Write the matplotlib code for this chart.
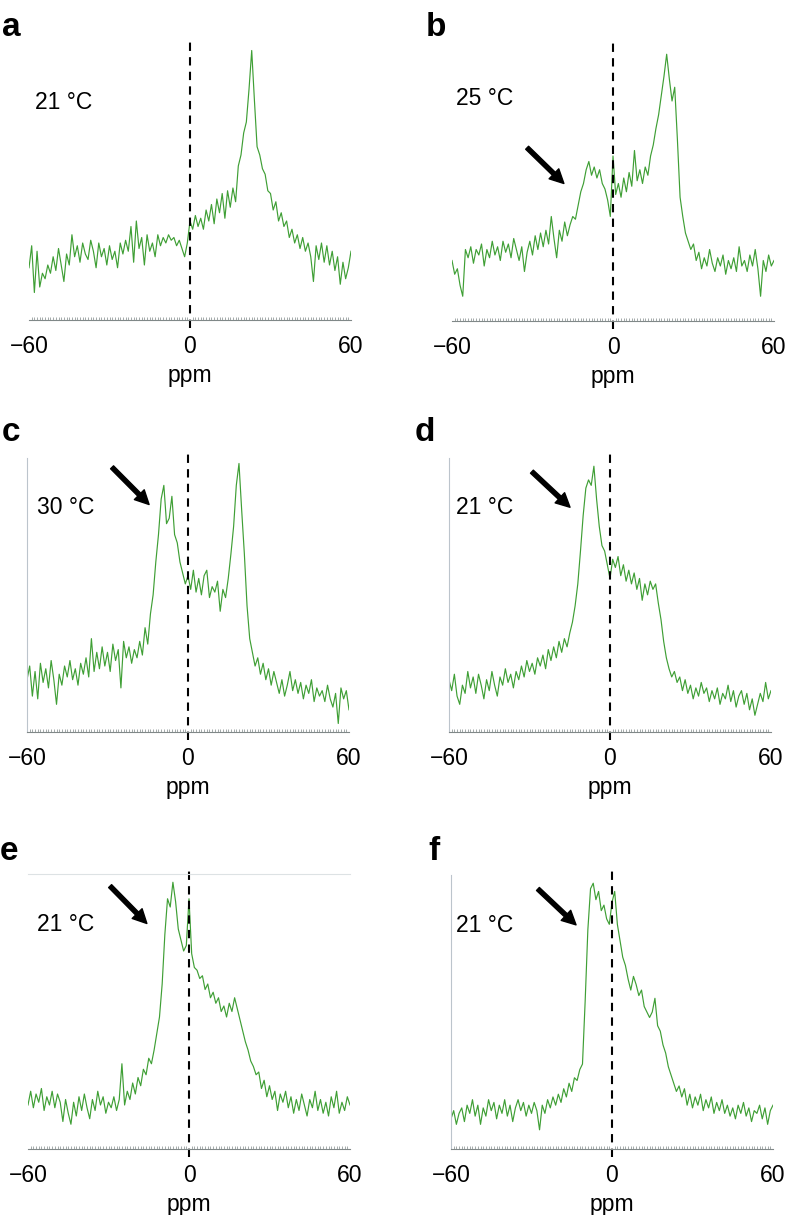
import matplotlib
matplotlib.use("Agg")
import matplotlib.pyplot as plt
from matplotlib.ticker import MultipleLocator
import numpy as np

plt.rcParams['font.family'] = ['Liberation Sans', 'DejaVu Sans']

# chemical shift axis (ppm), one point per ppm
ppm = np.arange(-60, 61, 1)

# intensities (0 = baseline, 1 = top of frame)
spec_a = [0.19, 0.27, 0.10, 0.25, 0.12, 0.17, 0.15, 0.20, 0.17, 0.23,
          0.18, 0.26, 0.20, 0.14, 0.24, 0.20, 0.31, 0.23, 0.27, 0.21,
          0.28, 0.24, 0.22, 0.29, 0.25, 0.19, 0.28, 0.23, 0.26, 0.20,
          0.27, 0.22, 0.25, 0.19, 0.28, 0.24, 0.29, 0.25, 0.34, 0.21,
          0.36, 0.26, 0.30, 0.20, 0.31, 0.25, 0.28, 0.23, 0.31, 0.27,
          0.30, 0.28, 0.31, 0.29, 0.30, 0.27, 0.29, 0.26, 0.23, 0.28,
          0.36, 0.33, 0.38, 0.34, 0.37, 0.33, 0.40, 0.36, 0.42, 0.35,
          0.44, 0.39, 0.46, 0.37, 0.47, 0.41, 0.48, 0.43, 0.56, 0.60,
          0.68, 0.72, 0.84, 0.98, 0.80, 0.63, 0.60, 0.55, 0.53, 0.47,
          0.46, 0.40, 0.43, 0.36, 0.39, 0.34, 0.36, 0.30, 0.33, 0.28,
          0.31, 0.26, 0.30, 0.25, 0.28, 0.23, 0.14, 0.27, 0.22, 0.28,
          0.21, 0.27, 0.20, 0.25, 0.18, 0.23, 0.13, 0.21, 0.15, 0.19,
          0.25]
spec_b = [0.22, 0.17, 0.19, 0.13, 0.09, 0.26, 0.23, 0.27, 0.21, 0.26,
          0.24, 0.28, 0.20, 0.26, 0.23, 0.29, 0.24, 0.27, 0.22, 0.29,
          0.25, 0.28, 0.23, 0.30, 0.26, 0.22, 0.27, 0.18, 0.25, 0.29,
          0.24, 0.31, 0.26, 0.32, 0.27, 0.33, 0.28, 0.38, 0.30, 0.23,
          0.33, 0.29, 0.36, 0.31, 0.35, 0.38, 0.37, 0.42, 0.47, 0.50,
          0.55, 0.58, 0.53, 0.56, 0.52, 0.55, 0.50, 0.48, 0.44, 0.38,
          0.60, 0.46, 0.50, 0.45, 0.52, 0.47, 0.54, 0.49, 0.62, 0.51,
          0.55, 0.50, 0.56, 0.53, 0.60, 0.64, 0.70, 0.75, 0.82, 0.89,
          0.97, 0.88, 0.80, 0.85, 0.66, 0.45, 0.38, 0.32, 0.29, 0.26,
          0.28, 0.22, 0.25, 0.19, 0.23, 0.20, 0.26, 0.21, 0.18, 0.23,
          0.20, 0.24, 0.17, 0.22, 0.19, 0.23, 0.18, 0.27, 0.20, 0.22,
          0.18, 0.24, 0.20, 0.26, 0.19, 0.09, 0.22, 0.18, 0.24, 0.20,
          0.22]
spec_c = [0.19, 0.24, 0.13, 0.22, 0.12, 0.25, 0.18, 0.23, 0.16, 0.26,
          0.19, 0.10, 0.21, 0.17, 0.24, 0.20, 0.26, 0.19, 0.23, 0.17,
          0.25, 0.21, 0.27, 0.20, 0.34, 0.22, 0.29, 0.23, 0.31, 0.24,
          0.29, 0.22, 0.32, 0.26, 0.30, 0.16, 0.33, 0.27, 0.31, 0.25,
          0.30, 0.27, 0.33, 0.28, 0.38, 0.32, 0.43, 0.50, 0.62, 0.72,
          0.85, 0.90, 0.76, 0.78, 0.86, 0.72, 0.69, 0.62, 0.58, 0.54,
          0.57, 0.52, 0.59, 0.51, 0.56, 0.50, 0.57, 0.59, 0.49, 0.53,
          0.51, 0.55, 0.44, 0.52, 0.49, 0.56, 0.65, 0.75, 0.90, 0.98,
          0.81, 0.65, 0.46, 0.34, 0.29, 0.24, 0.27, 0.21, 0.25, 0.19,
          0.23, 0.17, 0.22, 0.18, 0.14, 0.19, 0.13, 0.17, 0.22, 0.15,
          0.19, 0.14, 0.18, 0.12, 0.17, 0.14, 0.19, 0.11, 0.16, 0.13,
          0.15, 0.11, 0.17, 0.12, 0.09, 0.14, 0.03, 0.16, 0.12, 0.15,
          0.08]
spec_d = [0.19, 0.15, 0.21, 0.13, 0.10, 0.17, 0.14, 0.22, 0.16, 0.20,
          0.14, 0.21, 0.17, 0.12, 0.19, 0.15, 0.22, 0.17, 0.13, 0.20,
          0.17, 0.23, 0.18, 0.21, 0.16, 0.22, 0.19, 0.24, 0.20, 0.26,
          0.22, 0.25, 0.21, 0.27, 0.24, 0.28, 0.23, 0.30, 0.26, 0.31,
          0.27, 0.33, 0.29, 0.34, 0.31, 0.36, 0.40, 0.46, 0.54, 0.66,
          0.79, 0.89, 0.92, 0.90, 0.97, 0.85, 0.75, 0.68, 0.66, 0.61,
          0.56, 0.63, 0.60, 0.64, 0.57, 0.61, 0.55, 0.59, 0.54, 0.58,
          0.52, 0.56, 0.48, 0.54, 0.50, 0.55, 0.52, 0.54, 0.47, 0.41,
          0.33, 0.27, 0.23, 0.20, 0.22, 0.18, 0.20, 0.15, 0.19, 0.14,
          0.17, 0.12, 0.16, 0.13, 0.18, 0.14, 0.16, 0.11, 0.15, 0.12,
          0.16, 0.10, 0.14, 0.12, 0.17, 0.11, 0.15, 0.09, 0.13, 0.15,
          0.10, 0.14, 0.08, 0.12, 0.06, 0.10, 0.14, 0.11, 0.18, 0.12,
          0.15]
spec_e = [0.16, 0.21, 0.15, 0.20, 0.17, 0.22, 0.14, 0.19, 0.16, 0.21,
          0.15, 0.20, 0.17, 0.10, 0.18, 0.13, 0.09, 0.17, 0.12, 0.19,
          0.14, 0.20, 0.15, 0.11, 0.18, 0.14, 0.21, 0.16, 0.19, 0.13,
          0.17, 0.15, 0.19, 0.14, 0.18, 0.31, 0.16, 0.21, 0.18, 0.24,
          0.20, 0.26, 0.23, 0.29, 0.27, 0.33, 0.31, 0.36, 0.42, 0.48,
          0.60, 0.78, 0.91, 0.88, 0.97, 0.90, 0.80, 0.76, 0.72, 0.74,
          0.91, 0.71, 0.66, 0.65, 0.62, 0.63, 0.58, 0.60, 0.55, 0.57,
          0.53, 0.55, 0.50, 0.52, 0.48, 0.53, 0.50, 0.55, 0.51, 0.47,
          0.43, 0.39, 0.36, 0.32, 0.30, 0.27, 0.28, 0.22, 0.25, 0.19,
          0.23, 0.18, 0.21, 0.14, 0.20, 0.17, 0.21, 0.15, 0.19, 0.13,
          0.18, 0.14, 0.20, 0.16, 0.12, 0.18, 0.15, 0.21, 0.14, 0.18,
          0.13, 0.17, 0.12, 0.19, 0.15, 0.21, 0.13, 0.17, 0.14, 0.19,
          0.16]
spec_f = [0.11, 0.14, 0.09, 0.13, 0.15, 0.10, 0.16, 0.13, 0.18, 0.12,
          0.16, 0.09, 0.15, 0.12, 0.18, 0.14, 0.17, 0.11, 0.16, 0.13,
          0.18, 0.12, 0.16, 0.10, 0.15, 0.18, 0.14, 0.17, 0.12, 0.16,
          0.13, 0.17, 0.14, 0.07, 0.16, 0.13, 0.18, 0.15, 0.19, 0.16,
          0.20, 0.17, 0.22, 0.19, 0.24, 0.21, 0.26, 0.25, 0.29, 0.31,
          0.54, 0.80, 0.95, 0.97, 0.91, 0.94, 0.87, 0.89, 0.84, 0.82,
          0.90, 0.94, 0.82, 0.76, 0.70, 0.67, 0.62, 0.58, 0.63, 0.60,
          0.56, 0.58, 0.52, 0.50, 0.48, 0.50, 0.55, 0.45, 0.43, 0.38,
          0.35, 0.30, 0.27, 0.24, 0.21, 0.23, 0.19, 0.22, 0.16, 0.20,
          0.15, 0.19, 0.16, 0.20, 0.14, 0.18, 0.15, 0.19, 0.13, 0.17,
          0.14, 0.18, 0.13, 0.16, 0.12, 0.15, 0.11, 0.16, 0.13, 0.17,
          0.12, 0.15, 0.10, 0.14, 0.13, 0.16, 0.11, 0.15, 0.09, 0.14,
          0.16]

letters = ["a", "b", "c", "d", "e", "f"]
temps = ["21 °C", "25 °C", "30 °C", "21 °C", "21 °C", "21 °C"]
spectra = [spec_a, spec_b, spec_c, spec_d, spec_e, spec_f]
# temperature label position (ppm, fraction of height)
temp_pos = [(-57.8, 0.79), (-58.5, 0.81), (-56.3, 0.82),
            (-57.4, 0.82), (-56.6, 0.815), (-58.1, 0.815)]
# arrow tail/head (ppm, height); panel a has none
arrows = [None,
          ((-32.0, 0.63), (-18.3, 0.50)),
          ((-28.3, 0.966), (-14.5, 0.83)),
          ((-29.1, 0.95), (-14.9, 0.82)),
          ((-29.4, 0.956), (-15.7, 0.82)),
          ((-27.6, 0.949), (-13.4, 0.818))]

W, H = 786, 1215
fig = plt.figure(figsize=(W / 100, H / 100), dpi=100)

# axes frames in pixels: left, baseline y, top y
frames = [(29, 320, 45), (452, 321, 46), (27, 731.7, 458),
          (449, 731.7, 458), (28, 1149, 874), (451, 1149, 875)]
letter_pos = [(2, 36), (426, 36), (2, 441), (415, 441), (0, 860), (428, 860)]

line_col = "#3f9f35"
grey = "#808888"

for i in range(6):
    x0, yb, yt = frames[i]
    ax = fig.add_axes([x0 / W, 1 - yb / H, 322 / W, (yb - yt) / H])
    ax.plot(ppm, spectra[i], color=line_col, lw=0.85)
    ax.set_xlim(-60, 60)
    ax.set_ylim(0, 1)

    # dashed line at 0 ppm
    ax.plot([0, 0], [-0.03, 1.02], color="black", lw=1.5,
            dashes=(4, 3), clip_on=False, transform=ax.get_xaxis_transform())

    for s in ["top", "right", "left"]:
        ax.spines[s].set_visible(False)
    ax.spines["bottom"].set_color(grey)
    ax.spines["bottom"].set_linewidth(0.8)
    if i in (2, 3, 5):
        ax.spines["left"].set_visible(True)
        ax.spines["left"].set_color("#bcc4cc")
        ax.spines["left"].set_linewidth(0.8)
    if i == 4:
        ax.spines["top"].set_visible(True)
        ax.spines["top"].set_color("#dde2e4")
        ax.spines["top"].set_linewidth(0.8)

    ax.set_yticks([])
    ax.set_xticks([-60, 0, 60])
    ax.xaxis.set_minor_locator(MultipleLocator(1))
    ax.tick_params(axis="x", which="major", length=0, labelsize=16.5, pad=11)
    ax.tick_params(axis="x", which="minor", direction="in", length=2,
                   width=0.5, color=grey)
    ax.set_xlabel("ppm", fontsize=16.5, labelpad=4)

    tx, ty = temp_pos[i]
    ax.text(tx, ty, temps[i], fontsize=16.5, va="center", ha="left")

    if arrows[i] is not None:
        (xa, ya), (xb, yb2) = arrows[i]
        ax.annotate("", xy=(xb, yb2), xytext=(xa, ya),
                    arrowprops=dict(facecolor="black", edgecolor="black",
                                    width=3, headwidth=10, headlength=10,
                                    shrink=0))

    lx, ly = letter_pos[i]
    fig.text(lx / W, 1 - ly / H, letters[i], fontsize=24,
             fontweight="bold", va="baseline", ha="left")

fig.savefig("out.png", dpi=100)
